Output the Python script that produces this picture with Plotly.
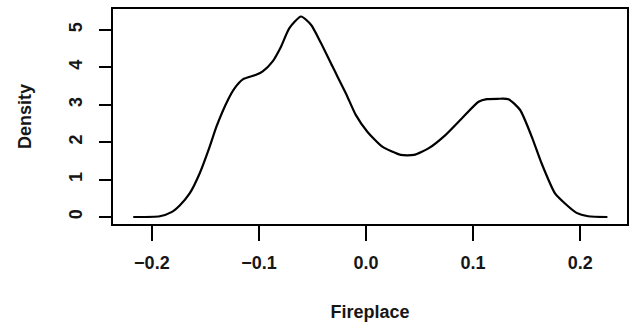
import plotly.graph_objects as go

# Kernel density estimate of the Fireplace variable, sampled along x
fireplace = [-0.2174, -0.1926, -0.1817, -0.1740, -0.1647, -0.1553, -0.1460, -0.1398,
             -0.1290, -0.1228, -0.1151, -0.1026, -0.0965, -0.0872, -0.0793, -0.0716,
             -0.0607, -0.0514, -0.0421, -0.0313, -0.0189, -0.0096, 0.0012, 0.0152,
             0.0323, 0.0447, 0.0586, 0.0741, 0.0896, 0.1051, 0.1128, 0.1228,
             0.1330, 0.1439, 0.1547, 0.1640, 0.1765, 0.1858, 0.1966, 0.2074, 0.2254]
density = [0.00, 0.02, 0.13, 0.31, 0.63, 1.17, 1.88, 2.41,
           3.13, 3.44, 3.68, 3.80, 3.89, 4.16, 4.56, 5.05,
           5.36, 5.14, 4.65, 4.02, 3.31, 2.73, 2.28, 1.88,
           1.66, 1.66, 1.84, 2.19, 2.64, 3.08, 3.15, 3.16,
           3.15, 2.86, 2.15, 1.43, 0.63, 0.36, 0.11, 0.02, 0.00]

x_ticks = [-0.2, -0.1, 0.0, 0.1, 0.2]
x_tick_labels = ["\u22120.2", "\u22120.1", "0.0", "0.1", "0.2"]
y_ticks = [0, 1, 2, 3, 4, 5]
y_tick_labels = ["0", "1", "2", "3", "4", "5"]

FONT = "Liberation Sans, Arial, sans-serif"
INK = "#161616"

fig = go.Figure()
fig.add_trace(go.Scatter(
    x=fireplace, y=density, mode="lines",
    line=dict(color="black", width=2.2, shape="spline", smoothing=0.6),
    hoverinfo="skip", showlegend=False,
))

fig.update_layout(
    width=633, height=331,
    margin=dict(l=113, r=4, t=9, b=107),
    paper_bgcolor="white", plot_bgcolor="white",
    font=dict(family=FONT, size=18, color=INK, weight="bold"),
    xaxis=dict(
        range=[-0.2363, 0.2437],
        tickvals=x_ticks, ticktext=x_tick_labels,
        ticks="outside", ticklen=15, tickwidth=1.8, tickcolor="black",
        ticklabelstandoff=6,
        tickfont=dict(family=FONT, size=18, color=INK, weight="bold"),
        showline=True, mirror=True, linecolor="black", linewidth=1.8,
        showgrid=False, zeroline=False,
        title=dict(text="Fireplace", standoff=34,
                   font=dict(family=FONT, size=18, color=INK, weight="bold")),
    ),
    yaxis=dict(
        range=[-0.187, 5.56],
        tickvals=y_ticks, ticktext=y_tick_labels, tickangle=-90,
        ticks="outside", ticklen=12, tickwidth=1.8, tickcolor="black",
        ticklabelstandoff=10,
        tickfont=dict(family=FONT, size=18, color=INK, weight="bold"),
        showline=True, mirror=True, linecolor="black", linewidth=1.8,
        showgrid=False, zeroline=False,
        title=dict(text="Density", standoff=30,
                   font=dict(family=FONT, size=18, color=INK, weight="bold")),
    ),
)

fig.write_html("out.html")
